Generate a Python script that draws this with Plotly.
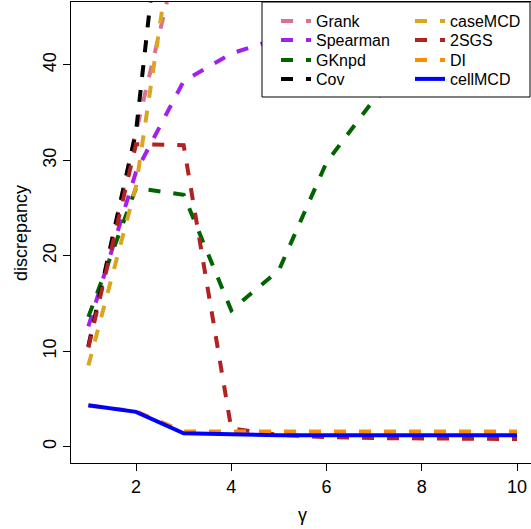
import plotly.graph_objects as go

# Contamination level gamma and the discrepancy of each estimator
gamma = [1, 2, 3, 4, 5, 6, 7, 8, 9, 10]

grank = [10.6, 33.0, 54.0, 70.0, 80.0, 87.0, 92.0, 96.0, 99.0, 101.0]
spearman = [12.6, 28.8, 38.3, 41.2, 42.8, 43.5, 44.0, 44.3, 44.5, 44.6]
gknpd = [13.6, 27.1, 26.4, 14.3, 18.5, 29.8, 36.4, 40.0, 42.0, 43.0]
cov = [10.5, 33.0, 78.0, 110.0, 130.0, 145.0, 155.0, 162.0, 167.0, 170.0]
casemcd = [8.5, 27.3, 61.0, 80.0, 92.0, 100.0, 106.0, 110.0, 113.0, 115.0]
sgs2 = [10.4, 31.7, 31.6, 1.9, 1.25, 1.0, 0.9, 0.85, 0.8, 0.8]
di = [4.3, 3.7, 1.6, 1.6, 1.6, 1.6, 1.6, 1.6, 1.6, 1.6]
cellmcd = [4.35, 3.65, 1.4, 1.25, 1.2, 1.2, 1.2, 1.2, 1.2, 1.2]

names = ["Grank", "Spearman", "GKnpd", "Cov", "caseMCD", "2SGS", "DI", "cellMCD"]
series = [grank, spearman, gknpd, cov, casemcd, sgs2, di, cellmcd]
colors = ["#DB7093", "#A020F0", "#006400", "#000000",
          "#DAA520", "#B22222", "#FF8C00", "#0000FF"]
dashes = ["12px,13px"] * 7 + ["solid"]

W, H = 531, 529
L, R, T, B = 71, 0, 2, 66
pw, ph = W - L - R, H - T - B

def px_x(p):
    return (p - L) / pw

def px_y(p):
    return (H - B - p) / ph

font = "Liberation Sans, Arial, sans-serif"

# Two-column legend: one legend object per entry so rows sit tightly
row_y = [21, 40, 60, 79]
col_x = [276, 410]
legend_ids = []
legend_layout = {}
for i in range(len(names)):
    lid = "legend" if i == 0 else f"legend{i + 1}"
    legend_ids.append(lid)
    legend_layout[lid] = dict(
        x=px_x(col_x[i // 4]), y=px_y(row_y[i % 4]),
        xanchor="left", yanchor="middle",
        bgcolor="rgba(0,0,0,0)", borderwidth=0,
        font=dict(size=16, family=font), itemwidth=30,
    )

fig = go.Figure()
for name, ys, col, dsh, lid in zip(names, series, colors, dashes, legend_ids):
    fig.add_trace(go.Scatter(
        x=gamma, y=ys, mode="lines", name=name,
        line=dict(color=col, width=4, dash=dsh),
        legend=lid,
    ))

fig.update_layout(
    width=W, height=H,
    margin=dict(l=L, r=R, t=T, b=B, pad=0),
    paper_bgcolor="white", plot_bgcolor="white",
    font=dict(family=font, size=17, color="black"),
    xaxis=dict(
        range=[0.635, 10.293], tickvals=[2, 4, 6, 8, 10],
        showgrid=False, zeroline=False,
        showline=True, linecolor="black", linewidth=1, mirror=True,
        ticks="outside", ticklen=7, tickcolor="black",
        tickfont=dict(size=18),
    ),
    yaxis=dict(
        range=[-1.71, 46.6], tickvals=[0, 10, 20, 30, 40],
        showgrid=False, zeroline=False,
        showline=True, linecolor="black", linewidth=1, mirror=False,
        ticks="outside", ticklen=7, tickcolor="black",
        tickangle=-90, tickfont=dict(size=18),
    ),
    showlegend=True,
    **legend_layout,
)

# White legend panel with frame, covering the curves behind it
fig.add_shape(
    type="rect", xref="paper", yref="paper",
    x0=px_x(262), x1=px_x(530), y0=px_y(97), y1=px_y(2),
    fillcolor="white", line=dict(color="black", width=1), layer="above",
)

# Axis titles
fig.add_annotation(
    text="discrepancy", xref="paper", yref="paper",
    x=px_x(21), y=px_y(233), textangle=-90, showarrow=False,
    font=dict(size=18), xanchor="center", yanchor="middle",
)
fig.add_annotation(
    text="γ", xref="paper", yref="paper",
    x=px_x(302), y=px_y(515), showarrow=False,
    font=dict(size=18), xanchor="center", yanchor="middle",
)

fig.write_html("out.html")
